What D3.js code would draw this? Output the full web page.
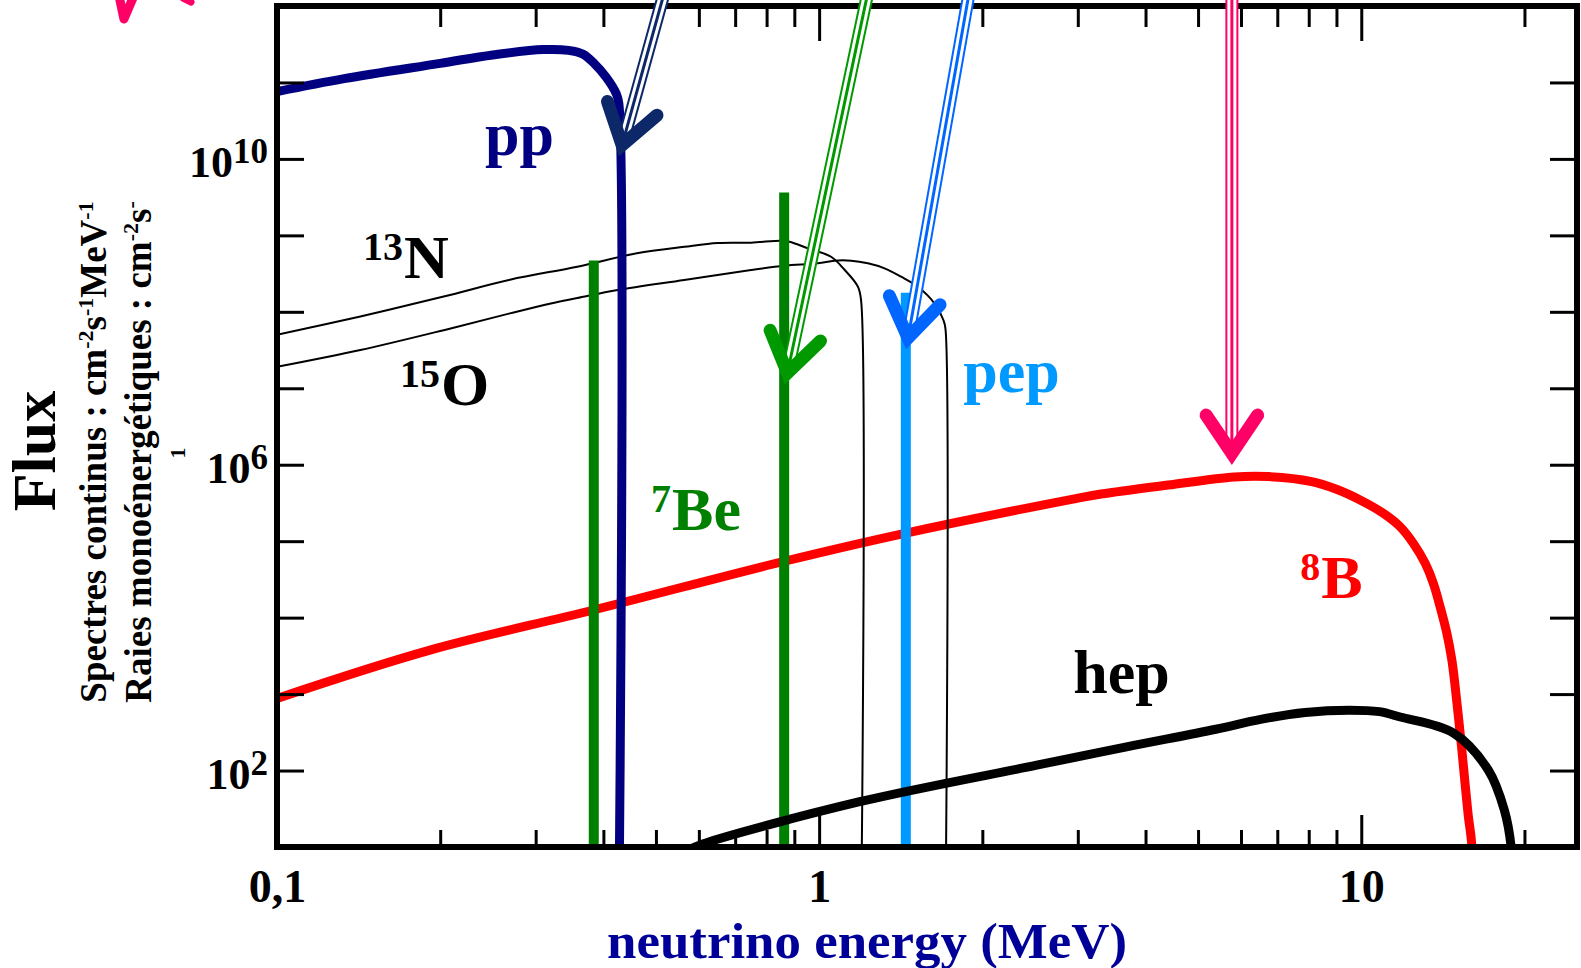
<!DOCTYPE html>
<html>
<head>
<meta charset="utf-8">
<script src="https://cdn.jsdelivr.net/npm/d3@7"></script>
<style>
  html, body { margin: 0; padding: 0; background: #fff; }
  svg { display: block; }
  text { font-family: "Liberation Serif", "Times New Roman", serif; font-weight: bold; }
</style>
</head>
<body>
<svg id="chart" width="1581" height="968"></svg>
<script>
// energies in MeV, fluxes given as log10(flux)
// continuous spectra (cm-2 s-1 MeV-1)
const ppE     = [0.1, 0.133, 0.2, 0.25, 0.31, 0.345, 0.367, 0.3845, 0.4046, 0.422, 0.427, 0.427]
const ppLogF  = [10.88, 11.05, 11.25, 11.36, 11.43, 11.42, 11.37, 11.25, 11.07, 10.86, 10.73, 0]

const n13E    = [0.1, 0.1425, 0.203, 0.269, 0.358, 0.461, 0.564, 0.65, 0.749, 0.851, 0.882, 0.953, 1.052, 1.114, 1.179, 1.195, 1.195]
const n13LogF = [7.70, 7.94, 8.20, 8.42, 8.59, 8.765, 8.85, 8.90, 8.905, 8.93, 8.917, 8.83, 8.72, 8.55, 8.33, 8.15, 0]

const o15E    = [0.1, 0.1425, 0.203, 0.269, 0.32, 0.358, 0.425, 0.564, 0.749, 0.863, 0.995, 1.067, 1.146, 1.23, 1.32, 1.417, 1.521, 1.632, 1.695, 1.71, 1.71]
const o15LogF = [7.28, 7.50, 7.76, 7.98, 8.11, 8.18, 8.285, 8.416, 8.547, 8.603, 8.634, 8.669, 8.669, 8.634, 8.569, 8.459, 8.328, 8.111, 7.893, 7.78, 0]

const b8E     = [0.1, 0.1915, 0.3834, 0.855, 1.439, 2.99, 3.314, 4.40, 5.83, 6.73, 8.1, 9.0, 9.95, 10.98, 11.79, 12.48, 13.12, 13.58, 13.98, 14.38, 14.69, 14.90, 15.11, 15.33, 15.54, 15.76, 15.98, 16.1]
const b8LogF  = [2.944, 3.576, 4.10, 4.731, 5.103, 5.56, 5.617, 5.734, 5.84, 5.845, 5.78, 5.68, 5.54, 5.365, 5.19, 4.97, 4.71, 4.45, 4.14, 3.80, 3.45, 3.10, 2.70, 2.27, 1.83, 1.40, 1.05, 0]

const hepE    = [0.57, 0.61, 1.188, 2.52, 3.69, 5.39, 6.52, 7.88, 9.5, 10.8, 11.8, 14.8, 17.15, 18.36, 18.9, 19.1]
const hepLogF = [0.95, 1.04, 1.592, 2.07, 2.31, 2.54, 2.67, 2.76, 2.79, 2.77, 2.70, 2.49, 2.007, 1.483, 1.0, 0]

// monoenergetic lines (cm-2 s-1)
const be7E    = [0.384, 0.862]
const be7LogF = [8.67, 9.56]
const pepE    = [1.445]
const pepLogF = [8.25]

// curve labels
const labelMain = ['pp', 'N', 'O', 'Be', 'pep', 'B', 'hep']
const labelSup  = ['', '13', '15', '7', '', '8', '']
const labelE    = [0.242, 0.1715, 0.2007, 0.5355, 1.844, 8.44, 2.942]
const labelLogF = [10.05, 8.44, 6.78, 5.15, 6.95, 4.26, 3.01]
const labelColor = ['#000080', '#000', '#000', '#008000', '#0099ff', '#ff0000', '#000']

// annotation arrows coming from above the frame
const arrowTipE     = [0.433, 0.874, 1.459, 5.772]
const arrowTipLogF  = [10.18, 7.2, 7.66, 6.15]
const arrowTailE    = [0.5286, 1.249, 1.916, 5.772]
const arrowTailLogF = [12.4, 12.4, 12.4, 12.4]
const arrowColor    = ['#0d2868', '#009900', '#0066ff', '#ff0066']
// pieces of a pink glyph cut by the top of the picture
const pinkFragE    = [0.0511, 0.0522, 0.0545]
const pinkFragLogF = [12.14, 11.83, 12.14]
const pinkDotE     = [0.0672, 0.0694]
const pinkDotLogF  = [12.1, 12.05]

// axis ticks
const xMinor = [0.2, 0.3, 0.4, 0.5, 0.6, 0.7, 0.8, 0.9, 2, 3, 4, 5, 6, 7, 8, 9, 20]
const xMajor = [1, 10]
const xLabels = [0.1, 1, 10]
const yTicks = [1e2, 1e3, 1e4, 1e5, 1e6, 1e7, 1e8, 1e9, 1e10, 1e11]
const yLabels = [1e2, 1e6, 1e10]

const svg = d3.select('#chart')
const pLeft = 277, pRight = 1577, pTop = 6, pBottom = 847

let x = d3.scaleLog().domain([0.1, 25]).range([pLeft, pRight])
let y = d3.scaleLog().domain([10, 1e12]).range([pBottom, pTop])

let zip = (es, fs) => es.map((e, i) => [e, Math.pow(10, fs[i])])

svg.append('clipPath').attr('id', 'plot')
    .append('rect')
    .attr('x', pLeft).attr('y', pTop)
    .attr('width', pRight - pLeft).attr('height', pBottom - pTop)

let line = d3.line()
    .x(d => x(d[0]))
    .y(d => y(d[1]))
    .curve(d3.curveCatmullRom.alpha(0.5))

let plot = svg.append('g').attr('clip-path', 'url(#plot)')

let drawCurve = (data, color, width) => {
    plot.append('path')
        .attr('d', line(data))
        .attr('fill', 'none')
        .attr('stroke', color)
        .attr('stroke-width', width)
        .attr('stroke-linejoin', 'round')
}

let drawLines = (es, fs, color) => {
    es.forEach((e, i) => {
        plot.append('line')
            .attr('x1', x(e)).attr('x2', x(e))
            .attr('y1', y(Math.pow(10, fs[i])))
            .attr('y2', pBottom + 10)
            .attr('stroke', color)
            .attr('stroke-width', 10)
    })
}

drawCurve(zip(b8E, b8LogF), '#ff0000', 9)
drawCurve(zip(n13E, n13LogF), '#000', 2)
drawCurve(zip(o15E, o15LogF), '#000', 2)
drawLines(be7E, be7LogF, '#008000')
drawLines(pepE, pepLogF, '#0099ff')
drawCurve(zip(ppE, ppLogF), '#000080', 9)
drawCurve(zip(hepE, hepLogF), '#000', 9)

// frame
svg.append('rect')
    .attr('x', pLeft).attr('y', pTop)
    .attr('width', pRight - pLeft).attr('height', pBottom - pTop)
    .attr('fill', 'none')
    .attr('stroke', '#000')
    .attr('stroke-width', 6)

// ticks, all pointing inwards
let tickGroup = (axis, tx, ty, vals, size) => {
    svg.append('g')
        .attr('transform', 'translate(' + tx + ',' + ty + ')')
        .call(axis.tickValues(vals).tickSize(size).tickFormat(''))
        .call(g => g.select('.domain').remove())
        .selectAll('line')
        .attr('stroke', '#000')
        .attr('stroke-width', 3)
}
tickGroup(d3.axisBottom(x), 0, pBottom, xMinor, -17)
tickGroup(d3.axisBottom(x), 0, pBottom, xMajor, -32)
tickGroup(d3.axisTop(x), 0, pTop, xMinor, -21)
tickGroup(d3.axisTop(x), 0, pTop, xMajor, -35)
tickGroup(d3.axisLeft(y), pLeft, 0, yTicks, -27)
tickGroup(d3.axisRight(y), pRight, 0, yTicks, -27)

// x tick labels
svg.append('g')
    .attr('transform', 'translate(0,' + pBottom + ')')
    .call(d3.axisBottom(x).tickValues(xLabels).tickSize(0).tickPadding(22)
        .tickFormat(d => d === 0.1 ? '0,1' : String(d)))
    .call(g => g.select('.domain').remove())
    .selectAll('text')
    .attr('font-size', 46)
    .attr('font-family', '"Liberation Serif", "Times New Roman", serif')
    .attr('fill', '#000')

// y tick labels 10^n
svg.append('g')
    .attr('transform', 'translate(' + pLeft + ',0)')
    .call(d3.axisLeft(y).tickValues(yLabels).tickSize(0).tickPadding(9).tickFormat(''))
    .call(g => g.select('.domain').remove())
    .selectAll('text')
    .attr('font-family', '"Liberation Serif", "Times New Roman", serif')
    .attr('fill', '#000')
    .attr('dy', 18)
    .each(function (d) {
        let t = d3.select(this)
        t.append('tspan').attr('font-size', 44).text('10')
        t.append('tspan').attr('font-size', 35).attr('dy', -14).text(Math.round(Math.log10(d)))
    })

// x axis title
svg.append('text')
    .attr('x', 867).attr('y', 958)
    .attr('text-anchor', 'middle')
    .attr('font-size', 51)
    .attr('textLength', 520)
    .attr('lengthAdjust', 'spacingAndGlyphs')
    .attr('fill', '#000099')
    .text('neutrino energy (MeV)')

// y axis titles (rotated)
svg.append('text')
    .attr('transform', 'translate(55,451) rotate(-90)')
    .attr('text-anchor', 'middle')
    .attr('font-size', 62)
    .text('Flux')

let rotatedLine = (bx, parts) => {
    let t = svg.append('text')
        .attr('transform', 'translate(' + bx + ',452) rotate(-90)')
        .attr('text-anchor', 'middle')
        .attr('font-size', 37)
    let raised = false
    parts.forEach(p => {
        let sup = p[1]
        let dy = sup && !raised ? -13 : (!sup && raised ? 13 : 0)
        raised = sup
        t.append('tspan')
            .attr('font-size', sup ? 22 : 37)
            .attr('dy', dy)
            .text(p[0])
    })
}
rotatedLine(106, [['Spectres continus : cm', false], ['-2', true], ['s', false], ['-1', true], ['MeV', false], ['-1', true]])
rotatedLine(151, [['Raies monoénergétiques : cm', false], ['-2', true], ['s', false], ['-', true]])
svg.append('text')
    .attr('transform', 'translate(185,453) rotate(-90)')
    .attr('text-anchor', 'middle')
    .attr('font-size', 22)
    .text('1')

// curve labels
labelMain.forEach((m, i) => {
    let lx = x(labelE[i]), ly = y(Math.pow(10, labelLogF[i]))
    svg.append('text')
        .attr('x', lx).attr('y', ly)
        .attr('font-size', 62)
        .attr('fill', labelColor[i])
        .text(m)
    if (labelSup[i]) {
        svg.append('text')
            .attr('x', lx - 1).attr('y', ly - 18)
            .attr('text-anchor', 'end')
            .attr('font-size', 40)
            .attr('fill', labelColor[i])
            .text(labelSup[i])
    }
})

// arrows: triple-line shaft and a V head
arrowTipE.forEach((e, i) => {
    let tx = x(e), ty = y(Math.pow(10, arrowTipLogF[i]))
    let sx = x(arrowTailE[i]), sy = y(Math.pow(10, arrowTailLogF[i]))
    let c = arrowColor[i]
    let shaft = [[13, c], [9, '#fff'], [3, c]]
    shaft.forEach(s => {
        svg.append('line')
            .attr('x1', sx).attr('y1', sy).attr('x2', tx).attr('y2', ty)
            .attr('stroke', s[1]).attr('stroke-width', s[0])
    })
    let ang = Math.atan2(sy - ty, sx - tx)
    let half = 34 * Math.PI / 180, len = 46
    let a1 = [tx + len * Math.cos(ang - half), ty + len * Math.sin(ang - half)]
    let a2 = [tx + len * Math.cos(ang + half), ty + len * Math.sin(ang + half)]
    svg.append('path')
        .attr('d', 'M' + a1 + 'L' + [tx, ty] + 'L' + a2)
        .attr('fill', 'none')
        .attr('stroke', c)
        .attr('stroke-width', 13)
        .attr('stroke-linecap', 'round')
        .attr('stroke-linejoin', 'miter')
})

let fragLine = d3.line().x(d => x(d[0])).y(d => y(d[1]))
;[[pinkFragE, pinkFragLogF, 9], [pinkDotE, pinkDotLogF, 7]].forEach(f => {
    svg.append('path')
        .attr('d', fragLine(zip(f[0], f[1])))
        .attr('fill', 'none')
        .attr('stroke', '#ff0066')
        .attr('stroke-width', f[2])
        .attr('stroke-linecap', 'round')
        .attr('stroke-linejoin', 'round')
})
</script>
</body>
</html>
